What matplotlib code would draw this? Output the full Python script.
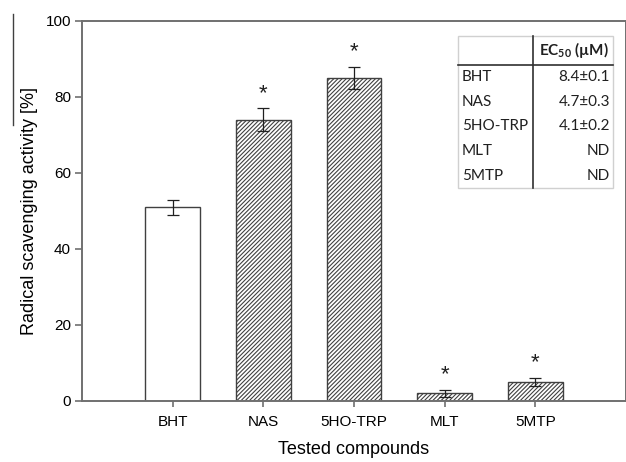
import matplotlib
matplotlib.use("Agg")
import matplotlib.pyplot as plt
from matplotlib.lines import Line2D
from matplotlib.patches import Rectangle

compounds = ["BHT", "NAS", "5HO-TRP", "MLT", "5MTP"]
activity = [51, 74, 85, 2, 5]
errors = [2, 3, 3, 1, 1]
significant = [False, True, True, True, True]
hatched = [False, True, True, True, True]

table_names = ["BHT", "NAS", "5HO-TRP", "MLT", "5MTP"]
table_ec50 = ["8.4±0.1", "4.7±0.3", "4.1±0.2", "ND", "ND"]

plt.rcParams['font.family'] = ['Liberation Sans', 'DejaVu Sans']
plt.rcParams['hatch.linewidth'] = 0.8
plt.rcParams['hatch.color'] = '#303030'
plt.rcParams['mathtext.fontset'] = 'custom'
plt.rcParams['mathtext.rm'] = 'Lato'
plt.rcParams['mathtext.bf'] = 'Lato:bold'

spine_col = '#707070'

fig = plt.figure(figsize=(6.26, 4.62), dpi=100)
W, H = 626, 462
ax = fig.add_axes([82 / W, 1 - 401 / H, 544 / W, 380 / H])

x = list(range(len(compounds)))
for i in x:
    ax.bar(i, activity[i], width=0.6, color='white', edgecolor='#404040',
           linewidth=1.0, hatch='////////' if hatched[i] else None, zorder=2)
ax.errorbar(x, activity, yerr=errors, fmt='none', ecolor='#202020',
            elinewidth=0.9, capsize=4.5, capthick=0.9, zorder=3)
for i in x:
    if significant[i]:
        ax.text(i, activity[i] + errors[i] + 4.0, '*', ha='center', va='center',
                fontsize=16, color='#202020')

ax.set_xlim(-1, 5)
ax.set_ylim(0, 100)
ax.set_xticks(x)
ax.set_xticklabels(compounds, fontsize=11)
ax.set_yticks([0, 20, 40, 60, 80, 100])
ax.tick_params(axis='y', length=5, width=1.2, color=spine_col, labelsize=11, pad=3)
ax.tick_params(axis='x', length=4, width=1.2, color=spine_col, labelsize=11, pad=6)
for s in ax.spines.values():
    s.set_color(spine_col)
    s.set_linewidth(1.4)

ax.set_xlabel("Tested compounds", fontsize=13, labelpad=9)
ax.set_ylabel("Radical scavenging activity [%]", fontsize=13, labelpad=5)

# stray overline next to the y label in the original
fig.add_artist(Line2D([13 / W, 13 / W], [1 - 14 / H, 1 - 125 / H],
                      color='#404040', linewidth=1.0))

# inset table (pixel layout converted to axes fraction)
def ax_x(px):
    return (px - 82) / 544

def ax_y(py):
    return (401 - py) / 380

t_left, t_mid, t_right = 458, 533, 613
t_top, t_head, t_bot = 36, 65, 188
ax.add_patch(Rectangle((ax_x(t_left), ax_y(t_bot)), (t_right - t_left) / 544,
                       (t_bot - t_top) / 380, transform=ax.transAxes,
                       facecolor='white', edgecolor='#d0d0d0', linewidth=1.0, zorder=4))
ax.add_line(Line2D([ax_x(t_mid), ax_x(t_mid)], [ax_y(t_top), ax_y(t_bot)],
                   transform=ax.transAxes, color='#303030', linewidth=1.2, zorder=5))
ax.add_line(Line2D([ax_x(t_left), ax_x(t_right)], [ax_y(t_head), ax_y(t_head)],
                   transform=ax.transAxes, color='#303030', linewidth=1.2, zorder=5))

tfont = dict(family=['Lato', 'DejaVu Sans'], fontsize=11, color='#202020', zorder=6)
ax.text(ax_x(t_right - 4), ax_y((t_top + t_head) / 2), r"$\mathbf{EC_{50}}$ (µM)",
        transform=ax.transAxes, ha='right', va='center', fontweight='bold', **tfont)
row_h = (t_bot - t_head) / len(table_names)
for k, (name, val) in enumerate(zip(table_names, table_ec50)):
    yc = ax_y(t_head + row_h * (k + 0.5))
    ax.text(ax_x(t_left + 4), yc, name, transform=ax.transAxes, ha='left', va='center', **tfont)
    ax.text(ax_x(t_right - 3), yc, val, transform=ax.transAxes, ha='right', va='center', **tfont)

fig.savefig("out.png", dpi=100)
